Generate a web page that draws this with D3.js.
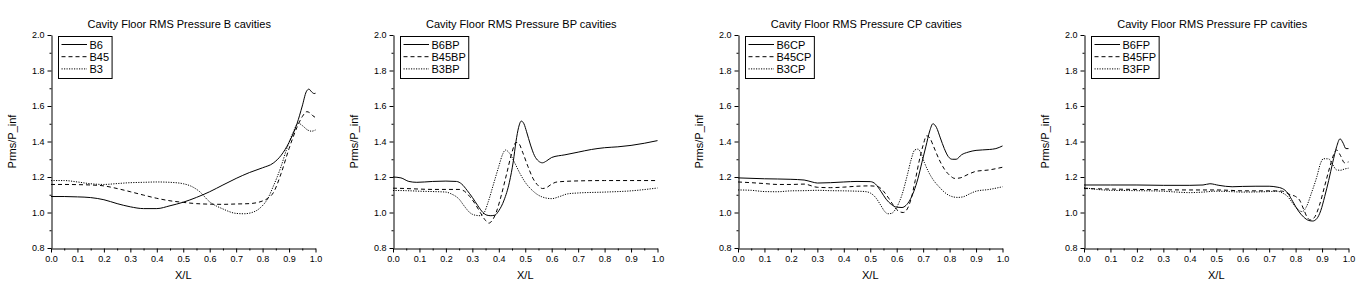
<!DOCTYPE html>
<html lang="en">
<head>
<meta charset="UTF-8">
<title>Cavity Floor RMS Pressure</title>
<script src="https://d3js.org/d3.v7.min.js"></script>
<style>
  body { margin: 0; background: #fff; }
  svg { display: block; font-family: "Liberation Sans", Arial, sans-serif; }
</style>
</head>
<body>
<script>
// data: [X/L, Prms/P_inf]
const b6 = [[0,1.09],[0.05,1.09],[0.1,1.088],[0.15,1.084],[0.2,1.072],[0.25,1.05],[0.3,1.032],[0.35,1.022],[0.4,1.022],[0.45,1.038],[0.5,1.058],[0.55,1.085],[0.6,1.117],[0.65,1.155],[0.7,1.192],[0.75,1.225],[0.8,1.252],[0.84,1.278],[0.87,1.322],[0.9,1.395],[0.93,1.5],[0.95,1.6],[0.965,1.68],[0.975,1.695],[0.985,1.68],[0.995,1.67],[1.0,1.672]];
const b45 = [[0,1.158],[0.05,1.158],[0.1,1.157],[0.15,1.155],[0.2,1.15],[0.25,1.135],[0.3,1.117],[0.35,1.098],[0.4,1.08],[0.45,1.066],[0.5,1.057],[0.55,1.05],[0.6,1.047],[0.65,1.046],[0.7,1.048],[0.75,1.05],[0.8,1.065],[0.82,1.08],[0.84,1.11],[0.87,1.22],[0.9,1.36],[0.93,1.48],[0.95,1.54],[0.967,1.568],[0.98,1.56],[0.99,1.545],[1.0,1.535]];
const b3 = [[0,1.18],[0.05,1.18],[0.1,1.172],[0.15,1.162],[0.2,1.158],[0.25,1.163],[0.3,1.168],[0.35,1.17],[0.4,1.172],[0.45,1.17],[0.5,1.162],[0.53,1.148],[0.56,1.12],[0.6,1.06],[0.65,1.02],[0.7,0.995],[0.73,0.993],[0.76,1.0],[0.79,1.025],[0.82,1.08],[0.84,1.146],[0.87,1.26],[0.89,1.353],[0.915,1.45],[0.935,1.503],[0.95,1.49],[0.97,1.465],[0.985,1.458],[1.0,1.465]];

const b6bp = [[0,1.2],[0.03,1.195],[0.06,1.175],[0.09,1.17],[0.15,1.175],[0.2,1.177],[0.24,1.175],[0.26,1.16],[0.28,1.125],[0.3,1.085],[0.32,1.04],[0.34,1.0],[0.355,0.985],[0.37,0.982],[0.385,0.985],[0.4,1.01],[0.42,1.07],[0.44,1.17],[0.455,1.29],[0.465,1.4],[0.475,1.48],[0.485,1.515],[0.495,1.5],[0.505,1.455],[0.52,1.38],[0.535,1.32],[0.55,1.29],[0.565,1.28],[0.58,1.29],[0.6,1.31],[0.65,1.325],[0.7,1.34],[0.75,1.355],[0.8,1.365],[0.85,1.37],[0.9,1.378],[0.95,1.39],[1.0,1.405]];
const b45bp = [[0,1.137],[0.05,1.135],[0.1,1.132],[0.15,1.13],[0.2,1.13],[0.25,1.13],[0.27,1.12],[0.29,1.09],[0.31,1.05],[0.33,1.0],[0.35,0.955],[0.362,0.94],[0.375,0.955],[0.39,1.0],[0.41,1.1],[0.43,1.22],[0.45,1.34],[0.465,1.395],[0.475,1.39],[0.49,1.34],[0.51,1.26],[0.53,1.19],[0.55,1.15],[0.565,1.135],[0.58,1.14],[0.6,1.16],[0.62,1.172],[0.7,1.178],[0.8,1.18],[0.9,1.18],[1.0,1.18]];
const b3bp = [[0,1.124],[0.05,1.123],[0.1,1.12],[0.15,1.118],[0.2,1.115],[0.22,1.105],[0.25,1.075],[0.27,1.035],[0.29,1.0],[0.31,0.985],[0.33,0.982],[0.345,1.0],[0.36,1.06],[0.38,1.16],[0.4,1.26],[0.415,1.33],[0.425,1.352],[0.44,1.335],[0.46,1.28],[0.48,1.22],[0.5,1.17],[0.53,1.12],[0.56,1.09],[0.6,1.078],[0.63,1.09],[0.66,1.105],[0.7,1.11],[0.8,1.115],[0.9,1.122],[1.0,1.138]];

const b6cp = [[0,1.195],[0.1,1.19],[0.2,1.187],[0.25,1.183],[0.28,1.172],[0.3,1.166],[0.35,1.168],[0.4,1.172],[0.45,1.175],[0.5,1.174],[0.52,1.16],[0.54,1.12],[0.56,1.075],[0.58,1.045],[0.6,1.03],[0.62,1.028],[0.635,1.04],[0.65,1.07],[0.665,1.12],[0.68,1.19],[0.695,1.28],[0.71,1.37],[0.725,1.46],[0.737,1.5],[0.75,1.48],[0.765,1.42],[0.78,1.36],[0.795,1.315],[0.81,1.3],[0.825,1.3],[0.845,1.325],[0.87,1.34],[0.9,1.35],[0.95,1.355],[0.975,1.36],[1.0,1.375]];
const b45cp = [[0,1.172],[0.05,1.168],[0.1,1.163],[0.15,1.158],[0.2,1.158],[0.25,1.16],[0.3,1.142],[0.35,1.14],[0.4,1.143],[0.45,1.148],[0.5,1.15],[0.53,1.145],[0.55,1.12],[0.57,1.08],[0.59,1.035],[0.61,1.005],[0.625,1.0],[0.64,1.02],[0.655,1.08],[0.67,1.18],[0.685,1.29],[0.7,1.38],[0.713,1.432],[0.725,1.42],[0.74,1.37],[0.76,1.3],[0.78,1.245],[0.8,1.21],[0.82,1.192],[0.84,1.195],[0.87,1.215],[0.9,1.232],[0.95,1.24],[1.0,1.255]];
const b3cp = [[0,1.127],[0.05,1.125],[0.1,1.118],[0.15,1.117],[0.2,1.122],[0.25,1.123],[0.3,1.125],[0.35,1.123],[0.4,1.122],[0.45,1.12],[0.48,1.118],[0.5,1.11],[0.52,1.085],[0.54,1.04],[0.555,1.005],[0.567,0.993],[0.58,0.995],[0.6,1.03],[0.62,1.1],[0.64,1.21],[0.655,1.3],[0.668,1.352],[0.68,1.357],[0.69,1.34],[0.705,1.28],[0.72,1.23],[0.74,1.18],[0.76,1.145],[0.78,1.115],[0.8,1.095],[0.83,1.085],[0.85,1.088],[0.88,1.108],[0.9,1.12],[0.95,1.13],[1.0,1.145]];

const b6fp = [[0,1.155],[0.1,1.155],[0.2,1.155],[0.3,1.153],[0.4,1.153],[0.45,1.155],[0.476,1.162],[0.51,1.153],[0.56,1.145],[0.6,1.147],[0.65,1.148],[0.7,1.148],[0.73,1.143],[0.75,1.135],[0.77,1.11],[0.79,1.06],[0.81,1.01],[0.83,0.975],[0.85,0.955],[0.865,0.952],[0.88,0.965],[0.895,1.01],[0.91,1.09],[0.925,1.18],[0.94,1.28],[0.955,1.37],[0.968,1.415],[0.98,1.39],[0.99,1.36],[1.0,1.36]];
const b45fp = [[0,1.135],[0.1,1.132],[0.2,1.13],[0.3,1.128],[0.4,1.127],[0.5,1.127],[0.55,1.125],[0.6,1.122],[0.7,1.122],[0.75,1.12],[0.78,1.1],[0.8,1.09],[0.815,1.07],[0.83,1.02],[0.845,0.97],[0.855,0.958],[0.87,0.97],[0.89,1.04],[0.91,1.15],[0.93,1.26],[0.945,1.33],[0.955,1.352],[0.97,1.32],[0.985,1.28],[1.0,1.285]];
const b3fp = [[0,1.14],[0.05,1.13],[0.1,1.125],[0.2,1.123],[0.3,1.12],[0.35,1.115],[0.4,1.112],[0.45,1.115],[0.5,1.12],[0.55,1.118],[0.6,1.115],[0.7,1.118],[0.73,1.12],[0.75,1.11],[0.77,1.09],[0.79,1.05],[0.81,1.015],[0.825,1.005],[0.84,1.03],[0.86,1.11],[0.88,1.2],[0.895,1.28],[0.905,1.303],[0.925,1.302],[0.94,1.27],[0.955,1.24],[0.97,1.238],[0.985,1.245],[1.0,1.25]];

const titles = ['Cavity Floor RMS Pressure B cavities', 'Cavity Floor RMS Pressure BP cavities',
                'Cavity Floor RMS Pressure CP cavities', 'Cavity Floor RMS Pressure FP cavities'];
const names = [['B6', 'B45', 'B3'], ['B6BP', 'B45BP', 'B3BP'], ['B6CP', 'B45CP', 'B3CP'], ['B6FP', 'B45FP', 'B3FP']];
const seriesSets = [[b6, b45, b3], [b6bp, b45bp, b3bp], [b6cp, b45cp, b3cp], [b6fp, b45fp, b3fp]];
const xTicks = [0, 0.1, 0.2, 0.3, 0.4, 0.5, 0.6, 0.7, 0.8, 0.9, 1.0];
const yTicks = [0.8, 1.0, 1.2, 1.4, 1.6, 1.8, 2.0];

// layout
const W = 1367, H = 297;
const lefts = [51, 393, 738, 1084];
const plotW = 264.5, plotTop = 35, plotBottom = 248;
const dashes = [null, '4,3', '1.2,1.3'];

const svg = d3.select('body').append('svg')
    .attr('width', W).attr('height', H);
svg.append('rect').attr('width', W).attr('height', H).attr('fill', '#fff');

const y = d3.scaleLinear().domain([0.8, 2.0]).range([plotBottom, plotTop]);

lefts.forEach((left, i) => {
    const x = d3.scaleLinear().domain([0, 1]).range([left, left + plotW]);
    const g = svg.append('g');

    // minor ticks
    g.append('g').attr('transform', `translate(0,${plotBottom + 0.5})`)
        .call(d3.axisBottom(x).tickValues(d3.range(0.05, 1, 0.1)).tickSize(2).tickSizeOuter(0).tickFormat(''))
        .call(a => a.select('.domain').remove());
    g.append('g').attr('transform', `translate(${left + 0.5},0)`)
        .call(d3.axisLeft(y).tickValues(d3.range(0.9, 2.0, 0.2)).tickSize(2).tickSizeOuter(0).tickFormat(''))
        .call(a => a.select('.domain').remove());

    // major axes
    const xa = g.append('g').attr('transform', `translate(0,${plotBottom + 0.5})`)
        .call(d3.axisBottom(x).tickValues(xTicks).tickSize(4).tickSizeOuter(0).tickPadding(3).tickFormat(d3.format('.1f')));
    const ya = g.append('g').attr('transform', `translate(${left + 0.5},0)`)
        .call(d3.axisLeft(y).tickValues(yTicks).tickSize(4).tickSizeOuter(0).tickPadding(3).tickFormat(d3.format('.1f')));
    [xa, ya].forEach(a => {
        a.attr('font-family', null);
        a.selectAll('text').attr('font-size', 9).attr('fill', '#000');
    });
    g.selectAll('.domain, .tick line').attr('stroke', '#000');

    // curves
    const line = d3.line().x(d => x(d[0])).y(d => y(d[1])).curve(d3.curveMonotoneX);
    seriesSets[i].forEach((s, k) => {
        g.append('path').datum(s)
            .attr('d', line)
            .attr('fill', 'none')
            .attr('stroke', '#000')
            .attr('stroke-width', 1)
            .attr('stroke-dasharray', dashes[k]);
    });

    // title and axis labels
    g.append('text').attr('x', left + plotW / 2 - 4).attr('y', 28)
        .attr('text-anchor', 'middle').attr('font-size', 11).text(titles[i]);
    g.append('text').attr('x', left + plotW / 2).attr('y', 279)
        .attr('text-anchor', 'middle').attr('font-size', 11).text('X/L');
    g.append('text').attr('transform', `translate(${left - 35},${(plotTop + plotBottom) / 2}) rotate(-90)`)
        .attr('text-anchor', 'middle').attr('font-size', 11).text('Prms/P_inf');

    // legend
    const lx = left + 7.5, ly = 36.5;
    const leg = g.append('g');
    const box = leg.append('rect').attr('x', lx).attr('y', ly).attr('height', 42)
        .attr('fill', '#fff').attr('stroke', '#000').attr('stroke-width', 1);
    let maxW = 0;
    names[i].forEach((n, k) => {
        const cy = ly + 8 + k * 12.2;
        leg.append('line').attr('x1', lx + 3).attr('x2', lx + 28.5)
            .attr('y1', cy).attr('y2', cy)
            .attr('stroke', '#000').attr('stroke-width', 1)
            .attr('stroke-dasharray', dashes[k]);
        const t = leg.append('text').attr('x', lx + 31).attr('y', cy + 4)
            .attr('font-size', 11).text(n);
        maxW = Math.max(maxW, t.node().getComputedTextLength());
    });
    box.attr('width', 31 + maxW + 3);
});
</script>
</body>
</html>
